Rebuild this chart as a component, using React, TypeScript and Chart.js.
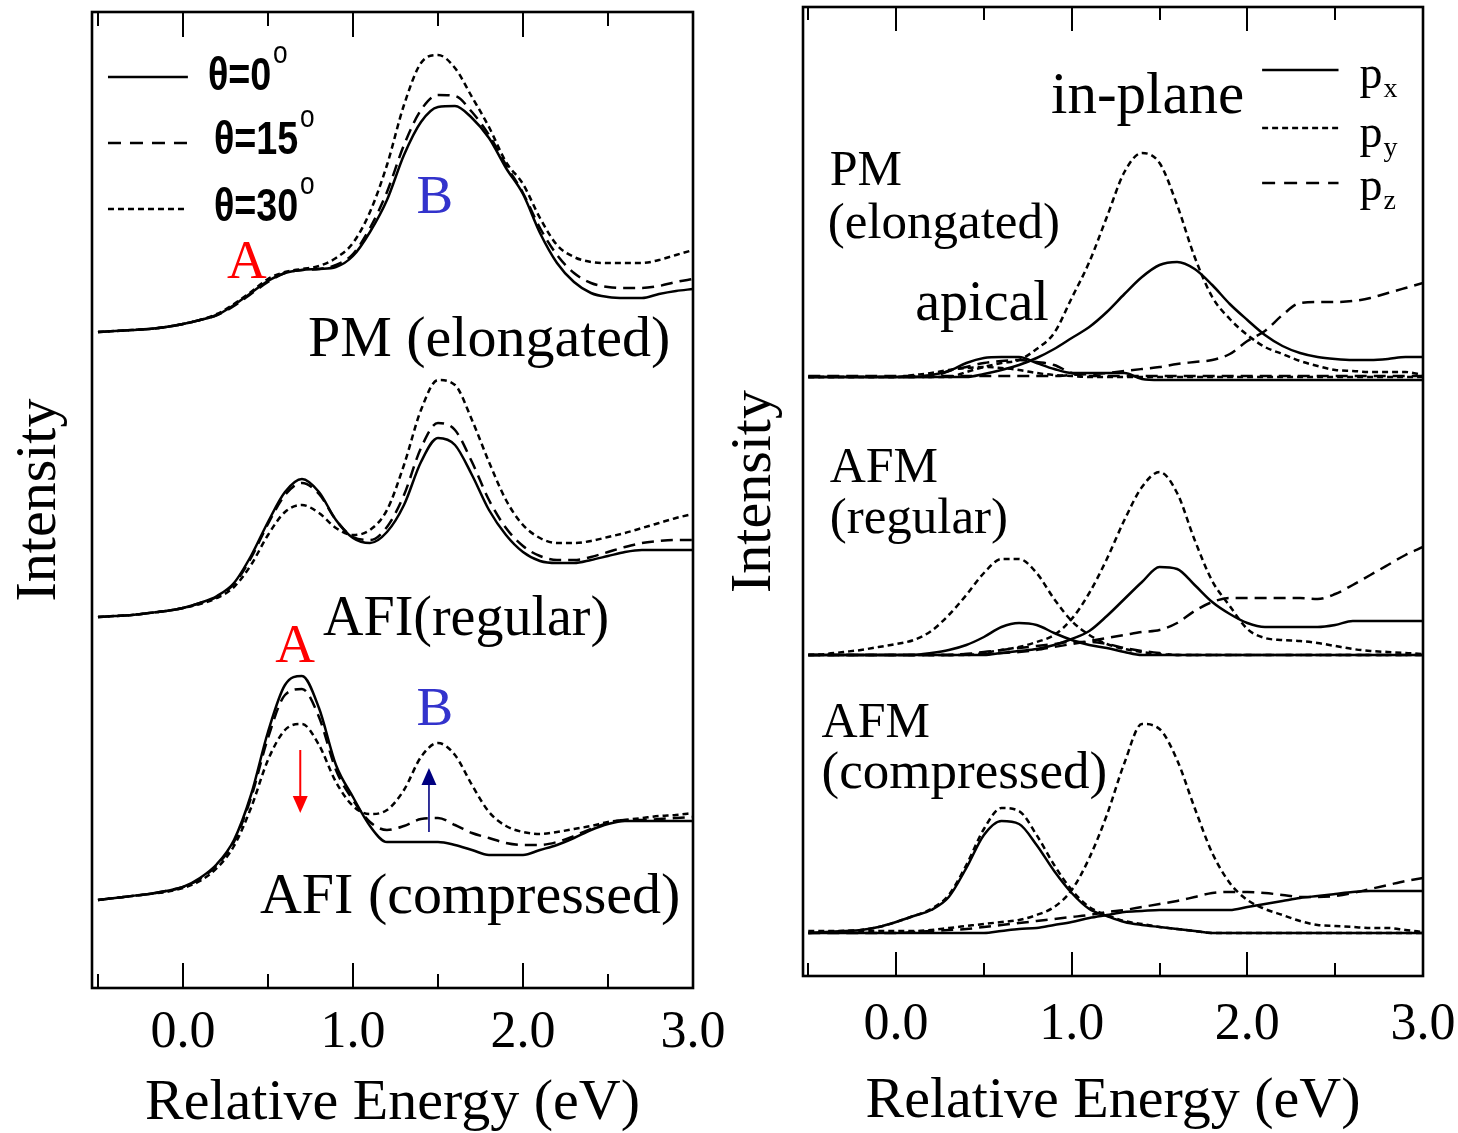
import React, { useEffect, useRef } from 'react';
import { Chart, registerables } from 'chart.js';

Chart.register(...registerables);

const SERIF = '"Liberation Serif", "Times New Roman", Times, serif';
const SANS = '"Liberation Sans", Arial, Helvetica, sans-serif';

// ---------- shared energy grid (eV) ----------
const ENERGY = [-0.5, -0.4, -0.3, -0.2, -0.1, 0.0, 0.1, 0.2, 0.3, 0.4, 0.5, 0.6, 0.7, 0.8, 0.9, 1.0, 1.1, 1.2,
  1.3, 1.4, 1.5, 1.6, 1.7, 1.8, 1.9, 2.0, 2.1, 2.2, 2.3, 2.4, 2.5, 2.6, 2.7, 2.8, 2.9, 3.0];

const X_TICKS = [-0.5, 0.0, 0.5, 1.0, 1.5, 2.0, 2.5, 3.0];
const X_LABELED = [0, 1, 2, 3];
const X_LABELS = ['0.0', '1.0', '2.0', '3.0'];

// ---------- left panel: angle dependence (values relative to each group's baseline) ----------
const LEFT_OFFSETS = [65.6, 37.1, 8.8]; // PM (elongated), AFI (regular), AFI (compressed)

const PM_T0 = [0, 0.1, 0.2, 0.3, 0.5, 0.8, 1.2, 1.7, 2.7, 3.9, 5.1, 5.9, 6.2, 6.3, 6.5, 7.6, 10.0, 13.2, 17.7, 21.0, 22.5, 22.6, 21.4, 19.4, 16.4, 13.8, 9.9, 6.9, 5.0, 3.9, 3.5, 3.4, 3.4, 3.8, 4.1, 4.3];
const PM_T15 = [0, 0.1, 0.2, 0.3, 0.5, 0.8, 1.2, 1.7, 2.6, 3.8, 5.0, 5.9, 6.2, 6.3, 6.7, 7.8, 10.4, 14.0, 18.7, 22.2, 23.7, 23.6, 22.0, 19.7, 16.7, 13.9, 10.4, 7.7, 5.9, 4.9, 4.5, 4.4, 4.4, 4.6, 5.0, 5.3];
const PM_T30 = [0, 0.1, 0.2, 0.3, 0.5, 0.8, 1.2, 1.8, 2.8, 4.0, 5.3, 6.0, 6.3, 6.6, 7.4, 8.9, 12.0, 16.7, 22.7, 26.9, 27.7, 26.4, 23.5, 20.5, 17.0, 14.8, 11.4, 8.7, 7.5, 7.0, 6.9, 6.9, 6.9, 7.2, 7.7, 8.2];

const REG_T0 = [0, 0.1, 0.2, 0.4, 0.6, 0.9, 1.4, 2.1, 3.4, 6.1, 9.5, 12.5, 13.8, 12.5, 9.7, 7.9, 7.4, 8.5, 11.2, 15.5, 17.9, 17.2, 14.2, 10.7, 8.2, 6.5, 5.6, 5.4, 5.4, 5.7, 6.1, 6.5, 6.7, 6.7, 6.7, 6.7];
const REG_T15 = [0, 0.1, 0.2, 0.4, 0.6, 0.9, 1.4, 2.0, 3.3, 5.9, 9.3, 12.2, 13.4, 12.3, 9.7, 8.0, 7.7, 9.0, 12.2, 16.9, 19.4, 18.7, 15.5, 11.7, 8.9, 7.1, 6.1, 5.7, 5.7, 6.0, 6.5, 7.0, 7.4, 7.6, 7.7, 7.7];
const REG_T30 = [0, 0.1, 0.2, 0.4, 0.6, 0.9, 1.3, 1.9, 3.0, 5.2, 8.2, 10.5, 11.2, 10.4, 8.9, 8.2, 8.7, 10.7, 15.2, 20.7, 23.7, 23.2, 19.7, 15.5, 11.7, 9.2, 7.9, 7.4, 7.4, 7.6, 8.0, 8.4, 8.9, 9.4, 9.9, 10.3];

const COMP_T0 = [0, 0.2, 0.4, 0.6, 0.9, 1.3, 2.2, 3.6, 6.0, 10.5, 16.8, 21.5, 22.4, 19.2, 13.5, 10.3, 7.4, 5.8, 5.8, 5.8, 5.8, 5.5, 5.0, 4.5, 4.5, 4.5, 5.0, 5.5, 6.2, 7.0, 7.6, 7.9, 7.9, 7.9, 7.9, 7.9];
const COMP_T15 = [0, 0.2, 0.4, 0.6, 0.9, 1.3, 2.1, 3.5, 5.8, 10.2, 16.2, 20.5, 21.1, 18.3, 13.0, 10.0, 7.8, 7.0, 7.4, 8.1, 8.2, 7.5, 6.7, 6.2, 5.7, 5.5, 5.5, 5.8, 6.4, 7.1, 7.7, 8.0, 8.0, 8.1, 8.2, 8.3];
const COMP_T30 = [0, 0.2, 0.4, 0.6, 0.8, 1.2, 1.9, 3.2, 5.4, 9.2, 14.0, 17.0, 17.6, 15.5, 11.8, 9.4, 8.6, 9.0, 11.0, 14.3, 15.7, 14.5, 11.5, 8.8, 7.4, 6.8, 6.6, 6.8, 7.1, 7.4, 7.8, 8.0, 8.2, 8.4, 8.5, 8.7];

// ---------- right panel: orbital-resolved (values relative to each group's baseline) ----------
const RIGHT_OFFSETS = [59.9, 32.1, 4.3]; // PM (elongated), AFM (regular), AFM (compressed)

const R_PM_IN_PY = [0, 0, 0, 0, 0, 0, 0, 0, 0, 0.5, 1.0, 1.4, 1.7, 2.8, 4.4, 7.9, 11.5, 16.0, 20.5, 22.4, 21.4, 17.2, 12.0, 8.0, 5.8, 4.2, 3.0, 2.3, 1.6, 1.1, 0.7, 0.6, 0.5, 0.5, 0.5, 0.2];
const R_PM_IN_PX = [0, 0, 0, 0, 0, 0, 0, 0, 0, 0, 0.3, 0.7, 1.2, 1.9, 2.8, 3.9, 5.0, 6.5, 8.3, 10.0, 11.2, 11.5, 10.8, 9.2, 7.3, 5.7, 4.2, 3.1, 2.4, 2.0, 1.8, 1.7, 1.7, 1.8, 2.0, 2.0];
const R_PM_IN_PZ = [0.1, 0.1, 0.1, 0.1, 0.1, 0.1, 0.1, 0.1, 0.1, 0.1, 0.1, 0.1, 0.1, 0.1, 0.1, 0.2, 0.3, 0.4, 0.6, 0.8, 1.0, 1.3, 1.5, 1.7, 2.3, 3.6, 4.6, 6.2, 7.4, 7.5, 7.5, 7.6, 7.9, 8.4, 8.9, 9.4];
const R_PM_AP_PX = [0, 0, 0, 0, 0, 0, 0, 0.2, 0.6, 1.4, 1.9, 2.0, 2.0, 1.4, 0.8, 0.4, 0.4, 0.4, 0.4, -0.2, -0.3, -0.3, -0.3, -0.3, -0.3, -0.3, -0.3, -0.3, -0.3, -0.3, -0.3, -0.3, -0.3, -0.3, -0.3, -0.3];
const R_PM_AP_PZ = [0, 0, 0, 0, 0, 0, 0, 0, 0.6, 1.0, 1.4, 1.6, 1.7, 1.5, 1.2, 0.4, 0.1, 0.1, 0.1, 0.1, 0.1, 0.1, 0.1, 0.1, 0.1, 0.1, 0.1, 0.1, 0.1, 0.1, 0.1, 0.1, 0.1, 0.1, 0.1, 0.1];
const R_PM_AP_PY = [0, 0, 0, 0, 0, 0, 0.2, 0.4, 0.7, 0.9, 1.0, 0.9, 0.7, 0.4, 0.2, 0.1, 0, 0, 0, 0, 0, 0, 0, 0, 0, 0, 0, 0, 0, 0, 0, 0, 0, 0, 0, 0];

const R_REG_AP_PY = [0, 0.1, 0.3, 0.5, 0.8, 1.1, 1.5, 2.4, 4.0, 6.0, 8.2, 9.6, 9.6, 8.2, 5.6, 3.4, 2.0, 1.1, 0.6, 0.3, 0.1, 0, 0, 0, 0, 0, 0, 0, 0, 0, 0, 0, 0, 0, 0, 0];
const R_REG_IN_PY = [0, 0, 0, 0, 0, 0, 0, 0, 0, 0, 0.2, 0.5, 0.8, 1.3, 2.0, 3.6, 6.2, 9.6, 13.5, 16.8, 18.3, 16.2, 11.5, 7.4, 4.9, 2.6, 1.7, 1.5, 1.4, 1.2, 0.9, 0.6, 0.4, 0.3, 0.2, 0.1];
const R_REG_IN_PX = [0, 0, 0, 0, 0, 0, 0, 0, 0, 0, 0, 0.2, 0.4, 0.6, 1.0, 1.6, 2.4, 3.9, 5.6, 7.3, 8.8, 8.6, 7.0, 5.3, 4.1, 3.2, 2.8, 2.8, 2.8, 2.8, 3.0, 3.4, 3.4, 3.4, 3.4, 3.4];
const R_REG_AP_PX = [0, 0, 0, 0, 0, 0, 0, 0.2, 0.5, 1.0, 1.8, 2.8, 3.2, 3.0, 2.2, 1.5, 1.0, 0.7, 0.3, 0, 0, 0, 0, 0, 0, 0, 0, 0, 0, 0, 0, 0, 0, 0, 0, 0];
const R_REG_IN_PZ = [0, 0, 0, 0, 0, 0, 0, 0, 0, 0.1, 0.1, 0.2, 0.3, 0.5, 0.8, 1.1, 1.4, 1.7, 2.0, 2.3, 2.5, 3.2, 4.4, 5.3, 5.7, 5.7, 5.7, 5.7, 5.7, 5.6, 6.1, 7.0, 8.0, 9.0, 10.0, 10.8];
const R_REG_AP_PZ = [0, 0, 0, 0, 0, 0, 0, 0, 0, 0.1, 0.3, 0.5, 0.7, 0.9, 1.1, 1.3, 1.3, 1.1, 0.7, 0.4, 0.2, 0, 0, 0, 0, 0, 0, 0, 0, 0, 0, 0, 0, 0, 0, 0];

const R_COMP_AP_PX = [0, 0.1, 0.2, 0.3, 0.6, 1.1, 1.7, 2.3, 3.6, 6.5, 9.8, 11.2, 10.9, 8.8, 6.2, 4.0, 2.4, 1.7, 1.1, 0.8, 0.6, 0.4, 0.2, 0, 0, 0, 0, 0, 0, 0, 0, 0, 0, 0, 0, 0];
const R_COMP_AP_PY = [0, 0.1, 0.2, 0.3, 0.6, 1.1, 1.7, 2.4, 3.8, 6.8, 10.4, 12.5, 12.2, 9.8, 6.8, 4.3, 2.6, 1.8, 1.2, 0.9, 0.6, 0.4, 0.2, 0, 0, 0, 0, 0, 0, 0, 0, 0, 0, 0, 0, 0];
const R_COMP_IN_PY = [0.2, 0.2, 0.2, 0.2, 0.2, 0.2, 0.2, 0.3, 0.5, 0.7, 0.9, 1.1, 1.3, 1.8, 2.6, 4.3, 7.5, 11.8, 17.0, 20.9, 20.4, 17.3, 12.5, 8.0, 5.0, 3.3, 2.4, 1.8, 1.2, 0.8, 0.7, 0.6, 0.5, 0.5, 0.3, 0.1];
const R_COMP_IN_PZ = [0, 0, 0, 0, 0, 0, 0.1, 0.2, 0.3, 0.4, 0.6, 0.8, 1.0, 1.2, 1.4, 1.6, 1.8, 2.1, 2.3, 2.6, 2.9, 3.2, 3.6, 4.0, 4.1, 4.1, 4.0, 3.8, 3.6, 3.6, 3.7, 4.0, 4.4, 4.8, 5.2, 5.5];
const R_COMP_IN_PX = [0, 0, 0, 0, 0, 0, 0, 0, 0, 0, 0, 0.2, 0.4, 0.5, 0.8, 1.1, 1.5, 1.8, 2.1, 2.2, 2.3, 2.3, 2.3, 2.3, 2.3, 2.6, 2.9, 3.2, 3.5, 3.7, 3.9, 4.1, 4.2, 4.2, 4.2, 4.2];

// ---------- styles ----------
const SOLID: number[] = [];
const DASH = [12, 7];
const DOT = [6, 4];
const RED = '#ff0000';
const BLUE = '#3333cc';
const NAVY = '#000080';

function series(label: string, values: number[], offset: number, dash: number[]) {
  return {
    label,
    data: ENERGY.map((e, i) => ({ x: e, y: values[i] + offset })),
    borderColor: '#000',
    borderWidth: 2.5,
    borderDash: dash,
    pointRadius: 0,
    fill: false,
    cubicInterpolationMode: 'monotone',
  };
}

const leftDatasets = [
  series('PM θ=0°', PM_T0, LEFT_OFFSETS[0], SOLID),
  series('PM θ=15°', PM_T15, LEFT_OFFSETS[0], DASH),
  series('PM θ=30°', PM_T30, LEFT_OFFSETS[0], DOT),
  series('AFI regular θ=0°', REG_T0, LEFT_OFFSETS[1], SOLID),
  series('AFI regular θ=15°', REG_T15, LEFT_OFFSETS[1], DASH),
  series('AFI regular θ=30°', REG_T30, LEFT_OFFSETS[1], DOT),
  series('AFI compressed θ=0°', COMP_T0, LEFT_OFFSETS[2], SOLID),
  series('AFI compressed θ=15°', COMP_T15, LEFT_OFFSETS[2], DASH),
  series('AFI compressed θ=30°', COMP_T30, LEFT_OFFSETS[2], DOT),
];

const rightDatasets = [
  series('PM in-plane py', R_PM_IN_PY, RIGHT_OFFSETS[0], DOT),
  series('PM in-plane px', R_PM_IN_PX, RIGHT_OFFSETS[0], SOLID),
  series('PM pz', R_PM_IN_PZ, RIGHT_OFFSETS[0], DASH),
  series('PM apical px', R_PM_AP_PX, RIGHT_OFFSETS[0], SOLID),
  series('PM apical pz', R_PM_AP_PZ, RIGHT_OFFSETS[0], DASH),
  series('PM apical py', R_PM_AP_PY, RIGHT_OFFSETS[0], DOT),
  series('AFM regular apical py', R_REG_AP_PY, RIGHT_OFFSETS[1], DOT),
  series('AFM regular in-plane py', R_REG_IN_PY, RIGHT_OFFSETS[1], DOT),
  series('AFM regular in-plane px', R_REG_IN_PX, RIGHT_OFFSETS[1], SOLID),
  series('AFM regular apical px', R_REG_AP_PX, RIGHT_OFFSETS[1], SOLID),
  series('AFM regular pz', R_REG_IN_PZ, RIGHT_OFFSETS[1], DASH),
  series('AFM regular apical pz', R_REG_AP_PZ, RIGHT_OFFSETS[1], DASH),
  series('AFM compressed apical px', R_COMP_AP_PX, RIGHT_OFFSETS[2], SOLID),
  series('AFM compressed apical py', R_COMP_AP_PY, RIGHT_OFFSETS[2], DOT),
  series('AFM compressed in-plane py', R_COMP_IN_PY, RIGHT_OFFSETS[2], DOT),
  series('AFM compressed pz', R_COMP_IN_PZ, RIGHT_OFFSETS[2], DASH),
  series('AFM compressed in-plane px', R_COMP_IN_PX, RIGHT_OFFSETS[2], SOLID),
];

// ---------- annotations (data coordinates: eV, intensity units) ----------
type TextSpec = {
  text: string; x: number; y: number; size: number; color?: string; align?: CanvasTextAlign;
  family?: string; weight?: string; sx?: number; sup?: string; sub?: string; small?: number; shift?: number;
};

const LEFT_TEXTS: TextSpec[] = [
  { text: 'A', x: 0.376, y: 71.0, size: 55, color: RED, align: 'center' },
  { text: 'B', x: 1.482, y: 77.5, size: 55, color: BLUE, align: 'center' },
  { text: 'PM (elongated)', x: 0.735, y: 63.2, size: 58 },
  { text: 'AFI(regular)', x: 0.824, y: 35.3, size: 56 },
  { text: 'A', x: 0.659, y: 32.6, size: 55, color: RED, align: 'center' },
  { text: 'B', x: 1.482, y: 26.3, size: 55, color: BLUE, align: 'center' },
  { text: 'AFI (compressed)', x: 0.453, y: 7.5, size: 58 },
  { text: 'θ=0', x: 0.147, y: 89.8, size: 46, family: SANS, weight: 'bold', sx: 0.82, sup: 'o', small: 32, shift: 27 },
  { text: 'θ=15', x: 0.182, y: 83.4, size: 46, family: SANS, weight: 'bold', sx: 0.82, sup: 'o', small: 32, shift: 27 },
  { text: 'θ=30', x: 0.182, y: 76.7, size: 46, family: SANS, weight: 'bold', sx: 0.82, sup: 'o', small: 32, shift: 27 },
];
const LEFT_LEGEND_LINES = [
  { x0: -0.441, x1: 0.029, y: 91.1, dash: SOLID },
  { x0: -0.441, x1: 0.029, y: 84.5, dash: [13, 9] },
  { x0: -0.441, x1: 0.029, y: 77.9, dash: DOT },
];
const LEFT_ARROWS = [
  { x: 0.69, from: 23.8, to: 17.5, color: RED, width: 2 },
  { x: 1.447, from: 15.6, to: 22.0, color: NAVY, width: 1.6 },
];

const RIGHT_TEXTS: TextSpec[] = [
  { text: 'in-plane', x: 0.882, y: 86.3, size: 59 },
  { text: 'PM', x: -0.378, y: 79.1, size: 50 },
  { text: '(elongated)', x: -0.389, y: 73.8, size: 51 },
  { text: 'apical', x: 0.109, y: 65.6, size: 56 },
  { text: 'AFM', x: -0.378, y: 49.4, size: 50 },
  { text: '(regular)', x: -0.378, y: 44.3, size: 51 },
  { text: 'AFM', x: -0.424, y: 23.9, size: 50 },
  { text: '(compressed)', x: -0.424, y: 18.8, size: 53 },
  { text: 'p', x: 2.639, y: 88.8, size: 46, sub: 'x', small: 28, shift: 9 },
  { text: 'p', x: 2.639, y: 82.9, size: 46, sub: 'y', small: 28, shift: 9 },
  { text: 'p', x: 2.639, y: 77.6, size: 46, sub: 'z', small: 28, shift: 9 },
];
const RIGHT_LEGEND_LINES = [
  { x0: 2.084, x1: 2.519, y: 90.6, dash: SOLID },
  { x0: 2.084, x1: 2.519, y: 84.8, dash: DOT },
  { x0: 2.084, x1: 2.519, y: 79.3, dash: [13, 9] },
];

function drawText(ctx: CanvasRenderingContext2D, xs: any, ys: any, t: TextSpec) {
  const px = xs.getPixelForValue(t.x);
  const py = ys.getPixelForValue(t.y);
  const fam = t.family ?? SERIF;
  const wt = t.weight ?? 'normal';
  ctx.save();
  ctx.translate(px, py);
  ctx.scale(t.sx ?? 1, 1);
  ctx.fillStyle = t.color ?? '#000';
  ctx.font = `${wt} ${t.size}px ${fam}`;
  ctx.textAlign = t.align ?? 'left';
  ctx.textBaseline = 'alphabetic';
  ctx.fillText(t.text, 0, 0);
  if (t.sup || t.sub) {
    const w = ctx.measureText(t.text).width;
    ctx.font = `normal ${t.small}px ${fam}`;
    ctx.textAlign = 'left';
    if (t.sup) ctx.fillText(t.sup, w + 2, -(t.shift ?? 0));
    if (t.sub) ctx.fillText(t.sub, w + 1, t.shift ?? 0);
  }
  ctx.restore();
}

function makeDecor(id: string, cfg: any) {
  return {
    id,
    afterDatasetsDraw(chart: any) {
      const { ctx, chartArea: a } = chart;
      const xs = chart.scales.x;
      const ys = chart.scales.y;
      ctx.save();
      ctx.strokeStyle = '#000';
      ctx.setLineDash([]);
      ctx.lineWidth = 2.6;
      ctx.strokeRect(a.left, a.top, a.right - a.left, a.bottom - a.top);
      ctx.lineWidth = 2;
      for (const t of X_TICKS) {
        const px = Math.round(xs.getPixelForValue(t));
        const major = X_LABELED.some((v) => Math.abs(v - t) < 1e-6);
        const len = major ? cfg.longTick : cfg.shortTick;
        ctx.beginPath();
        ctx.moveTo(px, a.bottom);
        ctx.lineTo(px, a.bottom - len);
        ctx.moveTo(px, a.top);
        ctx.lineTo(px, a.top + len);
        ctx.stroke();
      }
      ctx.lineWidth = 2.4;
      for (const L of cfg.legendLines) {
        ctx.setLineDash(L.dash);
        ctx.beginPath();
        ctx.moveTo(xs.getPixelForValue(L.x0), ys.getPixelForValue(L.y));
        ctx.lineTo(xs.getPixelForValue(L.x1), ys.getPixelForValue(L.y));
        ctx.stroke();
      }
      ctx.setLineDash([]);
      for (const T of cfg.texts) drawText(ctx, xs, ys, T);
      for (const A of cfg.arrows) {
        const px = xs.getPixelForValue(A.x);
        const p0 = ys.getPixelForValue(A.from);
        const p1 = ys.getPixelForValue(A.to);
        const dir = p1 > p0 ? 1 : -1;
        const head = 17;
        const hw = 7.5;
        ctx.strokeStyle = A.color;
        ctx.fillStyle = A.color;
        ctx.lineWidth = A.width;
        ctx.beginPath();
        ctx.moveTo(px, p0);
        ctx.lineTo(px, p1 - dir * head);
        ctx.stroke();
        ctx.beginPath();
        ctx.moveTo(px, p1);
        ctx.lineTo(px - hw, p1 - dir * head);
        ctx.lineTo(px + hw, p1 - dir * head);
        ctx.closePath();
        ctx.fill();
      }
      ctx.restore();
    },
  };
}

function tickLabel(v: any) {
  const n = Number(v);
  const i = X_LABELED.findIndex((t) => Math.abs(t - n) < 1e-6);
  return i >= 0 ? X_LABELS[i] : '';
}

function buildConfig(p: any) {
  return {
    type: 'line',
    data: { datasets: p.datasets },
    options: {
      responsive: false,
      animation: false,
      events: [],
      layout: { padding: { left: 0, right: p.padRight, top: p.padTop, bottom: 0 } },
      plugins: { legend: { display: false }, tooltip: { enabled: false }, title: { display: false } },
      scales: {
        x: {
          type: 'linear',
          position: 'bottom',
          min: p.xMin,
          max: p.xMax,
          grid: { display: false, drawTicks: false },
          border: { display: false },
          ticks: {
            stepSize: 0.5,
            autoSkip: false,
            maxRotation: 0,
            minRotation: 0,
            padding: p.tickPad,
            color: '#000',
            font: { family: SERIF, size: 52, lineHeight: 1.2 },
            callback: tickLabel,
          },
          title: {
            display: true,
            text: 'Relative Energy (eV)',
            color: '#000',
            font: { family: SERIF, size: 58, lineHeight: 1.0 },
            padding: { top: 0, bottom: p.titlePadBottom },
          },
          afterFit: (s: any) => {
            s.height = p.xAxisHeight;
            s.paddingLeft = 0;
            s.paddingRight = 0;
          },
        },
        y: {
          type: 'linear',
          min: 0,
          max: p.yMax,
          grid: { display: false, drawTicks: false },
          border: { display: false },
          ticks: { display: false },
          title: {
            display: true,
            text: 'Intensity',
            color: '#000',
            font: { family: SERIF, size: 58, lineHeight: 1.0 },
            padding: { top: p.yTitlePad, bottom: 0 },
          },
          afterFit: (s: any) => {
            s.width = p.yAxisWidth;
            s.paddingTop = 0;
            s.paddingBottom = 0;
          },
        },
      },
    },
    plugins: [p.decor],
  };
}

export default function App() {
  const leftRef = useRef<HTMLCanvasElement | null>(null);
  const rightRef = useRef<HTMLCanvasElement | null>(null);

  useEffect(() => {
    const left = new Chart(leftRef.current as HTMLCanvasElement, buildConfig({
      datasets: leftDatasets,
      xMin: -0.535, xMax: 3.0, yMax: 97.6,
      padRight: 36, padTop: 12, xAxisHeight: 145, yAxisWidth: 92,
      tickPad: 14, titlePadBottom: 0, yTitlePad: 11,
      decor: makeDecor('leftDecor', {
        longTick: 25, shortTick: 14, texts: LEFT_TEXTS, legendLines: LEFT_LEGEND_LINES, arrows: LEFT_ARROWS,
      }),
    }) as any);
    const right = new Chart(rightRef.current as HTMLCanvasElement, buildConfig({
      datasets: rightDatasets,
      xMin: -0.53, xMax: 3.0, yMax: 96.9,
      padRight: 35, padTop: 7, xAxisHeight: 157, yAxisWidth: 83,
      tickPad: 18, titlePadBottom: 2, yTitlePad: 6,
      decor: makeDecor('rightDecor', {
        longTick: 24, shortTick: 13, texts: RIGHT_TEXTS, legendLines: RIGHT_LEGEND_LINES, arrows: [],
      }),
    }) as any);
    return () => {
      left.destroy();
      right.destroy();
    };
  }, []);

  return (
    <div style={{ position: 'absolute', left: 0, top: 0, width: 1458, height: 1133, background: '#fff', overflow: 'hidden' }}>
      <canvas ref={leftRef} width={729} height={1133} style={{ position: 'absolute', left: 0, top: 0 }} />
      <canvas ref={rightRef} width={738} height={1133} style={{ position: 'absolute', left: 720, top: 0 }} />
    </div>
  );
}
